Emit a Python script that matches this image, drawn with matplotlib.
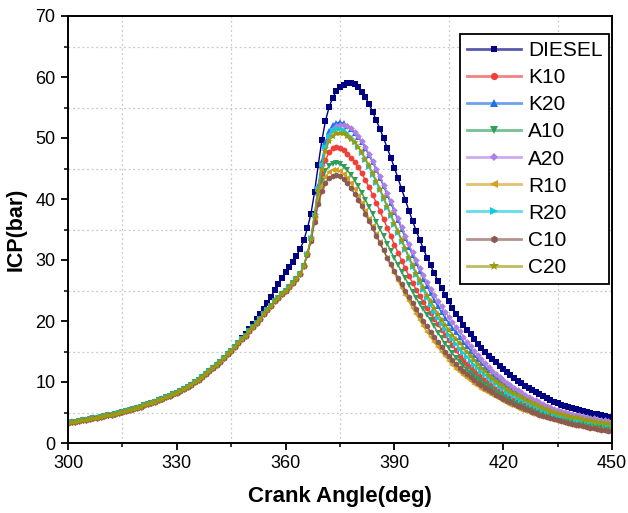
import matplotlib
matplotlib.use("Agg")
import matplotlib.pyplot as plt
from matplotlib.lines import Line2D
from matplotlib.ticker import MultipleLocator
from matplotlib.colors import to_rgba

plt.rcParams['font.family'] = ['Liberation Sans', 'DejaVu Sans']

# crank angle, one marker per degree
crank_angle = list(range(300, 451))

# compression stroke, shared by the blends (300..364 deg)
compression = [
    3.30, 3.40, 3.50, 3.60, 3.70, 3.81, 3.92, 4.04, 4.16, 4.28,
    4.40, 4.53, 4.67, 4.80, 4.95, 5.09, 5.26, 5.43, 5.60, 5.79,
    5.97, 6.17, 6.37, 6.57, 6.79, 7.01, 7.24, 7.47, 7.71, 7.96,
    8.22, 8.52, 8.85, 9.20, 9.57, 9.96, 10.38, 10.82, 11.28, 11.77,
    12.28, 12.81, 13.36, 13.93, 14.52, 15.13, 15.8, 16.4, 17.0, 17.6,
    18.3, 19.0, 19.7, 20.4, 21.1, 21.8, 22.5, 23.2, 23.8, 24.4,
    25.0, 25.6, 26.2, 26.9, 27.7,
]

# diesel, 348..450 deg
diesel_late = [
    17.2, 17.9, 18.7, 19.5, 20.3, 21.1, 22.0, 23.0, 24.0, 25.1,
    26.1, 27.0, 28.0, 28.8, 29.7, 30.7, 31.8, 33.2, 35.2, 37.6,
    41.2, 45.6, 49.6, 52.8, 55.1, 56.6, 57.7, 58.3, 58.7, 59.0,
    59.0, 58.8, 58.3, 57.6, 56.7, 55.6, 54.3, 52.9, 51.5, 50.0,
    48.4, 46.8, 45.1, 43.4, 41.6, 39.9, 38.1, 36.4, 34.8, 33.3,
    31.8, 30.4, 29.1, 27.8, 26.6, 25.4, 24.3, 23.2, 22.2, 21.2,
    20.3, 19.4, 18.6, 17.8, 17.0, 16.3, 15.6, 14.9, 14.3, 13.7,
    13.2, 12.6, 12.1, 11.6, 11.13, 10.67, 10.24, 9.82, 9.41, 9.03,
    8.66, 8.3, 7.96, 7.64, 7.33, 7.04, 6.77, 6.51, 6.28, 6.07,
    5.88, 5.7, 5.53, 5.37, 5.22, 5.08, 4.94, 4.81, 4.68, 4.56,
    4.44, 4.32, 4.2,
]

# blends, 365..450 deg
k10_late = [
    29.0, 31.0, 33.4, 37.0, 40.8, 44.1, 46.4, 47.7, 48.3, 48.5,
    48.4, 48.0, 47.4, 46.8, 46.0, 45.2, 44.2, 43.1, 41.9, 40.7,
    39.4, 38.1, 36.7, 35.3, 33.9, 32.5, 31.2, 29.9, 28.63, 27.41,
    26.24, 25.13, 24.07, 23.07, 22.12, 21.23, 20.34, 19.44, 18.56, 17.7,
    16.86, 16.04, 15.2, 14.28, 13.61, 12.99, 12.39, 11.82, 11.28, 10.76,
    10.27, 9.79, 9.34, 8.91, 8.5, 8.11, 7.77, 7.45, 7.13, 6.84,
    6.55, 6.27, 6.01, 5.76, 5.52, 5.28, 5.06, 4.85, 4.64, 4.45,
    4.26, 4.13, 4.01, 3.9, 3.77, 3.67, 3.55, 3.44, 3.35, 3.24,
    3.15, 3.05, 2.96, 2.87, 2.79, 2.71,
]
k20_late = [
    29.0, 31.0, 33.6, 37.6, 42.2, 46.2, 49.3, 51.2, 52.1, 52.5,
    52.6, 52.4, 52.0, 51.5, 50.9, 50.2, 49.3, 48.3, 47.2, 46.0,
    44.8, 43.5, 42.1, 40.7, 39.3, 37.9, 36.5, 35.05, 33.6, 32.18,
    30.8, 29.46, 28.16, 26.9, 25.68, 24.51, 23.41, 22.38, 21.42, 20.52,
    19.67, 18.87, 18.12, 17.41, 16.60, 15.84, 15.11, 14.42, 13.75, 13.12,
    12.52, 11.94, 11.39, 10.87, 10.37, 9.89, 9.48, 9.08, 8.70, 8.34,
    7.99, 7.65, 7.33, 7.02, 6.73, 6.44, 6.17, 5.91, 5.66, 5.43,
    5.20, 5.04, 4.89, 4.75, 4.60, 4.47, 4.33, 4.20, 4.08, 3.95,
    3.84, 3.72, 3.61, 3.50, 3.40, 3.30,
]
a10_late = [
    29.0, 30.9, 33.3, 36.8, 40.4, 43.0, 44.6, 45.4, 45.8, 45.9,
    45.7, 45.3, 44.7, 44.0, 43.1, 42.1, 41.0, 39.9, 38.7, 37.5,
    36.3, 35.1, 33.9, 32.7, 31.5, 30.3, 29.2, 28.1, 27.0, 25.9,
    24.8, 23.8, 22.8, 21.9, 21.0, 20.1, 19.1, 18.1, 17.2, 16.3,
    15.5, 14.7, 14.0, 13.23, 12.62, 12.04, 11.48, 10.96, 10.45, 9.97,
    9.52, 9.07, 8.66, 8.26, 7.88, 7.52, 7.2, 6.9, 6.61, 6.34,
    6.07, 5.81, 5.57, 5.34, 5.11, 4.89, 4.69, 4.49, 4.3, 4.13,
    3.95, 3.83, 3.72, 3.61, 3.5, 3.4, 3.29, 3.19, 3.1, 3.0,
    2.92, 2.83, 2.74, 2.66, 2.58, 2.51,
]
a20_late = [
    29.0, 31.1, 33.7, 37.5, 41.8, 45.6, 48.6, 50.5, 51.5, 51.9,
    52.1, 52.1, 51.95, 51.6, 51.05, 50.33, 49.46, 48.48, 47.4, 46.23,
    44.99, 43.7, 42.37, 41.01, 39.63, 38.23, 36.82, 35.4, 33.98, 32.59,
    31.24, 29.94, 28.69, 27.5, 26.37, 25.3, 24.28, 23.31, 22.38, 21.49,
    20.64, 19.83, 19.05, 18.3, 17.44, 16.62, 15.84, 15.09, 14.38, 13.71,
    13.06, 12.45, 11.86, 11.31, 10.77, 10.27, 9.84, 9.43, 9.03, 8.65,
    8.29, 7.94, 7.61, 7.29, 6.98, 6.69, 6.41, 6.14, 5.88, 5.63,
    5.4, 5.25, 5.1, 4.95, 4.81, 4.67, 4.54, 4.41, 4.28, 4.16,
    4.04, 3.93, 3.81, 3.7, 3.6, 3.5,
]
r10_late = [
    29.0, 31.0, 33.3, 36.6, 39.9, 42.2, 43.6, 44.4, 44.8, 44.8,
    44.6, 44.1, 43.4, 42.6, 41.6, 40.5, 39.3, 38.1, 36.8, 35.5,
    34.2, 32.9, 31.6, 30.3, 29.0, 27.8, 26.6, 25.4, 24.3, 23.2,
    22.1, 21.1, 20.1, 19.1, 18.2, 17.3, 16.5, 15.7, 14.9, 14.2,
    13.5, 12.8, 12.2, 11.6, 11.1, 10.62, 10.17, 9.73, 9.31, 8.91,
    8.52, 8.16, 7.81, 7.47, 7.15, 6.84, 6.55, 6.27, 6.0, 5.74,
    5.49, 5.25, 5.03, 4.81, 4.61, 4.41, 4.22, 4.04, 3.86, 3.7,
    3.54, 3.38, 3.24, 3.1, 2.96, 2.84, 2.72, 2.6, 2.49, 2.38,
    2.28, 2.18, 2.09, 2.0, 1.91, 1.83,
]
r20_late = [
    29.0, 31.0, 33.6, 37.4, 41.7, 45.6, 48.5, 50.3, 51.1, 51.4,
    51.5, 51.3, 50.8, 50.2, 49.4, 48.5, 47.5, 46.4, 45.2, 44.0,
    42.7, 41.4, 40.0, 38.6, 37.2, 35.8, 34.4, 33.0, 31.58, 30.19,
    28.84, 27.53, 26.25, 25.01, 23.81, 22.64, 21.53, 20.49, 19.52, 18.61,
    17.76, 16.97, 16.22, 15.49, 14.77, 14.1, 13.45, 12.83, 12.24, 11.68,
    11.14, 10.63, 10.14, 9.67, 9.23, 8.8, 8.44, 8.08, 7.74, 7.42,
    7.11, 6.81, 6.52, 6.25, 5.99, 5.73, 5.49, 5.26, 5.04, 4.83,
    4.63, 4.49, 4.35, 4.23, 4.09, 3.98, 3.85, 3.74, 3.63, 3.52,
    3.42, 3.31, 3.21, 3.12, 3.03, 2.94,
]
c10_late = [
    29.0, 30.9, 33.1, 36.2, 39.2, 41.3, 42.7, 43.4, 43.8, 43.9,
    43.7, 43.2, 42.6, 41.8, 40.9, 39.9, 38.8, 37.6, 36.4, 35.2,
    34.0, 32.8, 31.6, 30.4, 29.3, 28.2, 27.1, 26.0, 25.0, 24.0,
    23.0, 22.0, 21.0, 20.0, 19.1, 18.2, 17.4, 16.6, 15.8, 15.0,
    14.3, 13.6, 12.9, 12.3, 11.77, 11.26, 10.78, 10.32, 9.87, 9.45,
    9.04, 8.65, 8.28, 7.92, 7.58, 7.25, 6.94, 6.64, 6.36, 6.08,
    5.82, 5.57, 5.33, 5.1, 4.88, 4.67, 4.47, 4.28, 4.09, 3.92,
    3.75, 3.59, 3.43, 3.29, 3.14, 3.01, 2.88, 2.76, 2.64, 2.52,
    2.41, 2.31, 2.21, 2.12, 2.02, 1.94,
]
c20_late = [
    29.0, 31.0, 33.5, 37.3, 41.4, 45.0, 47.8, 49.5, 50.4, 50.8,
    50.9, 50.8, 50.4, 49.9, 49.3, 48.6, 47.7, 46.6, 45.5, 44.3,
    43.0, 41.7, 40.3, 38.9, 37.5, 36.1, 34.7, 33.3, 31.9, 30.54,
    29.22, 27.94, 26.7, 25.5, 24.34, 23.22, 22.17, 21.17, 20.24, 19.37,
    18.55, 17.78, 17.06, 16.37, 15.6, 14.89, 14.2, 13.55, 12.93, 12.33,
    11.77, 11.22, 10.71, 10.22, 9.75, 9.3, 8.91, 8.54, 8.18, 7.84,
    7.51, 7.19, 6.89, 6.6, 6.33, 6.05, 5.8, 5.56, 5.32, 5.1,
    4.89, 4.74, 4.6, 4.47, 4.32, 4.2, 4.07, 3.95, 3.84, 3.71,
    3.61, 3.5, 3.39, 3.29, 3.2, 3.1,
]

series = {
    "DIESEL": compression[:48] + diesel_late,
    "K10": compression + k10_late,
    "K20": compression + k20_late,
    "A10": compression + a10_late,
    "A20": compression + a20_late,
    "R10": compression + r10_late,
    "R20": compression + r20_late,
    "C10": compression + c10_late,
    "C20": compression + c20_late,
}
colors = {
    "DIESEL": "#000080", "K10": "#f0403c", "K20": "#1f6fe5",
    "A10": "#2e9e5b", "A20": "#b07fe6", "R10": "#d4a020",
    "R20": "#10ccdc", "C10": "#8c5a50", "C20": "#9c9a0e",
}
markers = {
    "DIESEL": "s", "K10": "o", "K20": "^", "A10": "v", "A20": "D",
    "R10": "<", "R20": ">", "C10": "h", "C20": "*",
}
msizes = {"s": 4.0, "o": 4.2, "^": 4.4, "v": 4.4, "D": 3.4,
          "<": 4.4, ">": 4.4, "h": 4.4, "*": 6.0}

fig = plt.figure(figsize=(6.28, 5.13), dpi=100)
ax = fig.add_axes([68 / 628, 1 - 443 / 513, 544 / 628, 427 / 513])

for name, vals in series.items():
    ax.plot(crank_angle, vals, color=colors[name], lw=1.0,
            marker=markers[name], ms=msizes[markers[name]], mew=0)

ax.set_xlim(300, 450)
ax.set_ylim(0, 70)
ax.xaxis.set_major_locator(MultipleLocator(30))
ax.xaxis.set_minor_locator(MultipleLocator(15))
ax.yaxis.set_major_locator(MultipleLocator(10))
ax.yaxis.set_minor_locator(MultipleLocator(5))
ax.tick_params(which="major", direction="out", length=5, width=1.3,
               labelsize=13, pad=4)
ax.tick_params(which="minor", direction="out", length=3, width=1.1)
ax.grid(which="minor", color="#c8c8c8", lw=0.9, ls=(0, (1.5, 2.2)))
for sp in ax.spines.values():
    sp.set_linewidth(1.4)

ax.set_xlabel("Crank Angle(deg)", fontsize=16, fontweight="bold", labelpad=10)
ax.set_ylabel("ICP(bar)", fontsize=15.5, fontweight="bold", labelpad=6)

handles = []
for name in series:
    r, g, b, _ = to_rgba(colors[name])
    handles.append(Line2D([], [], color=(r, g, b, 0.65), lw=2,
                          marker=markers[name], ms=msizes[markers[name]] + 1,
                          mew=0, mfc=colors[name]))
leg = ax.legend(handles, list(series.keys()), loc="upper right",
                bbox_to_anchor=(0.995, 0.957), borderaxespad=0,
                fontsize=15, handlelength=2.6, handletextpad=0.35,
                labelspacing=0.39, borderpad=0.32, fancybox=False,
                framealpha=1, edgecolor="black", numpoints=1)
leg.get_frame().set_linewidth(1.3)

fig.savefig("out.png", dpi=100)
